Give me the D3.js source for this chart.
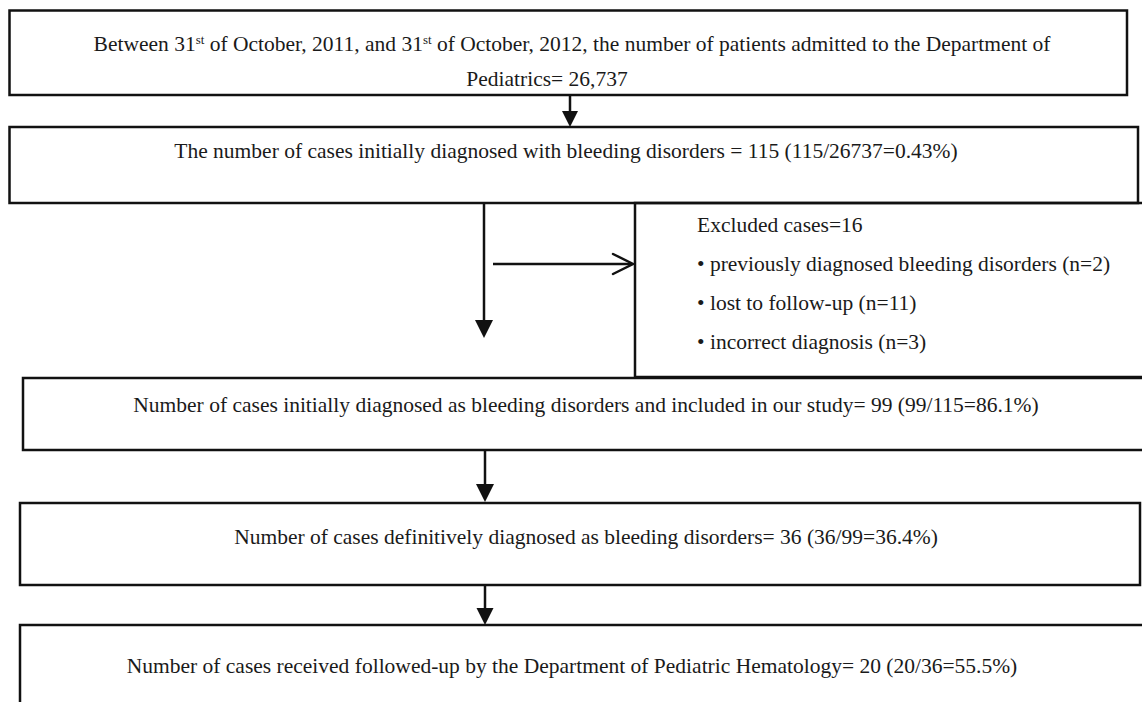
<!DOCTYPE html>
<html>
<head>
<meta charset="utf-8">
<script src="https://cdn.jsdelivr.net/npm/d3@7"></script>
<style>
  body { margin: 0; background: #fff; }
  svg { display: block; }
  text { font-family: "Liberation Serif", "DejaVu Serif", serif; fill: #1a1a1a; }
</style>
</head>
<body>
<div id="chart"></div>
<script>
const width = 1142;
const height = 702;

// box labels (top to bottom)
const boxLabels = [
  "The number of cases initially diagnosed with bleeding disorders = 115 (115/26737=0.43%)",
  "Number of cases initially diagnosed as bleeding disorders and included in our study= 99 (99/115=86.1%)",
  "Number of cases definitively diagnosed as bleeding disorders= 36 (36/99=36.4%)",
  "Number of cases received followed-up by the Department of Pediatric Hematology= 20 (20/36=55.5%)"
];
// first box, two lines, with superscripts
const headLine1 = [["Between 31", ""], ["st", "sup"], [" of October, 2011, and 31", ""], ["st", "sup"], [" of October, 2012, the number of patients admitted to the Department of", ""]];
const headLine2 = "Pediatrics= 26,737";

const excludedTitle = "Excluded cases=16";
const excludedItems = [
  "previously diagnosed bleeding disorders (n=2)",
  "lost to follow-up (n=11)",
  "incorrect diagnosis (n=3)"
];

// layout
const boxes = [
  { x: 9.5, y: 10.5, w: 1117.5, h: 84.5 },   // head
  { x: 9.5, y: 127, w: 1128.5, h: 76 },      // initially diagnosed
  { x: 23, y: 378, w: 1140, h: 72 },         // included
  { x: 20, y: 503, w: 1120, h: 82 },         // definitive
  { x: 20, y: 625, w: 1140, h: 100 }         // followed-up
];
const excludedBox = { x: 635, y: 203, w: 530, h: 174 };

const svg = d3.select('#chart').append('svg')
  .attr('width', width)
  .attr('height', height);

svg.append('rect').attr('width', width).attr('height', height).attr('fill', '#fff');

// boxes
svg.selectAll('rect.box')
  .data(boxes)
  .enter()
  .append('rect')
    .attr('class', 'box')
    .attr('x', d => d.x)
    .attr('y', d => d.y)
    .attr('width', d => d.w)
    .attr('height', d => d.h)
    .attr('fill', 'none')
    .attr('stroke', '#111')
    .attr('stroke-width', 2.5);

svg.append('rect')
  .attr('x', excludedBox.x)
  .attr('y', excludedBox.y)
  .attr('width', excludedBox.w)
  .attr('height', excludedBox.h)
  .attr('fill', 'none')
  .attr('stroke', '#111')
  .attr('stroke-width', 2.5);
// thick shared edge under excluded box
svg.append('line')
  .attr('x1', excludedBox.x).attr('x2', width)
  .attr('y1', excludedBox.y + excludedBox.h + 0.5).attr('y2', excludedBox.y + excludedBox.h + 0.5)
  .attr('stroke', '#111').attr('stroke-width', 3);

// arrows
const arrows = [
  { x1: 570, y1: 95, x2: 570, y2: 127, size: 16 },
  { x1: 484, y1: 204, x2: 484, y2: 338, size: 18 },
  { x1: 485, y1: 450, x2: 485, y2: 502, size: 18 },
  { x1: 485, y1: 585, x2: 485, y2: 625, size: 17 }
];

arrows.forEach(a => {
  svg.append('line')
    .attr('x1', a.x1).attr('y1', a.y1)
    .attr('x2', a.x2).attr('y2', a.y2 - 4)
    .attr('stroke', '#111')
    .attr('stroke-width', 2.5);
  svg.append('path')
    .attr('d', `M${a.x2 - a.size / 2},${a.y2 - a.size} L${a.x2 + a.size / 2},${a.y2 - a.size} L${a.x2},${a.y2} Z`)
    .attr('fill', '#111');
});

// horizontal open arrow to excluded box
svg.append('line')
  .attr('x1', 493).attr('y1', 264)
  .attr('x2', 632).attr('y2', 264)
  .attr('stroke', '#111').attr('stroke-width', 2.5);
svg.append('path')
  .attr('d', 'M613,254 L633,264 L613,274')
  .attr('fill', 'none')
  .attr('stroke', '#111')
  .attr('stroke-width', 2.5)
  .attr('stroke-linecap', 'round');

// texts
const fs = 21.5;

const t1 = svg.append('text')
  .attr('x', 572).attr('y', 51)
  .attr('text-anchor', 'middle')
  .style('font-size', fs + 'px');
headLine1.forEach(p => {
  const ts = t1.append('tspan').text(p[0]);
  if (p[1] === 'sup') ts.attr('dy', -7).style('font-size', (fs * 0.6) + 'px');
  else if (ts.node().previousSibling) ts.attr('dy', 7);
});

svg.append('text')
  .attr('x', 547).attr('y', 86)
  .attr('text-anchor', 'middle')
  .style('font-size', fs + 'px')
  .text(headLine2);

const labelPos = [
  { x: 566, y: 158 },
  { x: 586, y: 412 },
  { x: 586, y: 544 },
  { x: 572, y: 673 }
];

svg.selectAll('text.lbl')
  .data(boxLabels)
  .enter()
  .append('text')
    .attr('class', 'lbl')
    .attr('x', (d, i) => labelPos[i].x)
    .attr('y', (d, i) => labelPos[i].y)
    .attr('text-anchor', 'middle')
    .style('font-size', fs + 'px')
    .text(d => d);

// excluded list
const exY = d3.scaleLinear().domain([0, 3]).range([232, 349]);
svg.append('text')
  .attr('x', 697).attr('y', exY(0))
  .style('font-size', fs + 'px')
  .text(excludedTitle);

svg.selectAll('text.ex')
  .data(excludedItems)
  .enter()
  .append('text')
    .attr('class', 'ex')
    .attr('x', 697)
    .attr('y', (d, i) => exY(i + 1))
    .style('font-size', fs + 'px')
    .text(d => '\u2022 ' + d);
</script>
</body>
</html>
